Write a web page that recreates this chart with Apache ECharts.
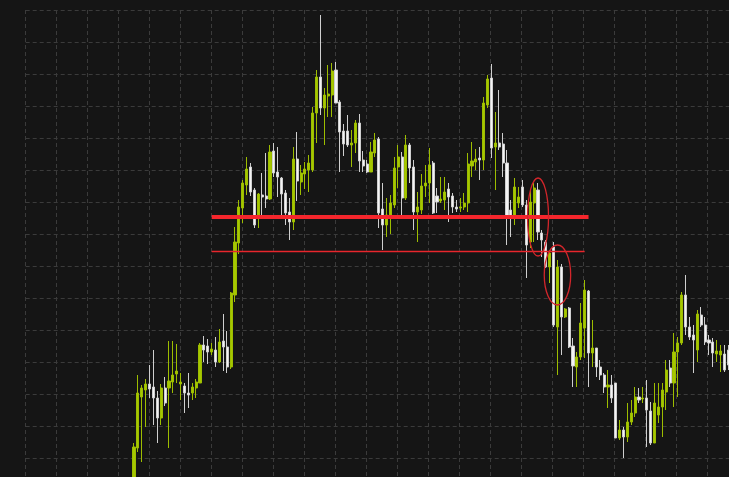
<!DOCTYPE html>
<html>
<head>
<meta charset="utf-8">
<script src="https://cdn.jsdelivr.net/npm/echarts@6/dist/echarts.min.js"></script>
<style>
html,body{margin:0;padding:0;background:#151515;}
#chart{width:729px;height:477px;}
</style>
</head>
<body>
<div id="chart"></div>
<script>
// OHLC values (price units), one entry per bar
const opens = [20,52,103,110,116,113,102,82,112,112,
118,126,116,114,107,107,112,117,155,154,
148,150,138,159,153,133,205,257,292,315,
333,310,285,305,304,301,349,328,322,307,
288,278,341,318,326,330,330,387,423,392,
404,405,430,398,369,369,355,357,377,340,
336,328,347,361,291,275,285,295,333,343,
302,355,333,288,290,314,317,337,304,299,
300,311,304,293,292,293,297,334,338,342,
340,395,422,353,357,356,337,290,283,297,
313,295,258,297,310,267,258,233,253,173,
233,183,192,154,133,143,172,209,147,152,
133,125,113,115,117,62,70,63,78,87,
103,101,102,89,57,85,93,108,132,117,
148,157,205,173,165,150,185,175,160,158,
146,145,146,150];
const closes = [53,107,112,116,111,102,82,112,97,119,
125,129,118,107,105,113,118,155,150,148,
151,138,158,153,133,207,258,293,317,331,
308,275,306,303,301,348,327,323,306,287,
278,341,319,327,331,337,387,423,392,405,
406,429,397,368,356,355,357,377,339,334,
328,348,360,287,275,285,297,332,343,302,
355,332,288,293,314,317,335,287,298,301,
308,303,293,291,293,297,336,339,341,340,
397,421,352,357,353,337,282,282,313,303,
295,255,298,312,268,260,233,247,175,233,
183,191,153,134,143,177,210,147,152,133,
125,113,115,102,62,70,63,78,87,103,
100,102,90,57,97,93,110,130,117,148,
157,205,173,163,160,186,175,158,157,147,
149,149,130,135];
const lows = [18,48,38,73,102,75,57,75,94,52,
107,117,100,87,92,100,102,117,138,136,
145,133,137,129,127,131,198,246,277,305,
304,272,272,284,292,300,323,303,285,275,
260,270,299,305,311,308,328,357,385,355,
383,383,397,328,344,353,333,347,328,328,
327,328,343,272,250,263,266,292,312,282,
300,317,270,258,286,303,297,286,287,297,
290,278,287,288,288,290,288,323,330,320,
330,392,342,310,350,323,255,263,275,292,
293,222,252,258,260,243,232,217,173,125,
145,182,152,113,113,140,142,113,133,123,
120,107,92,97,62,60,42,58,75,83,
97,97,53,55,57,77,63,90,113,93,
103,155,165,160,127,138,173,155,145,133,
138,128,128,130];
const highs = [57,125,115,121,135,150,109,116,123,159,
159,156,127,117,127,117,121,157,164,161,
157,163,171,186,169,208,273,300,320,343,
337,312,307,327,347,355,357,353,323,310,
302,353,368,335,338,345,393,430,485,412,
435,437,438,400,376,385,370,380,386,349,
340,358,367,363,317,302,305,343,355,348,
365,357,340,308,326,335,352,339,312,323,
323,317,307,300,302,307,347,358,351,353,
403,425,436,388,410,367,350,300,322,313,
320,300,310,317,317,270,260,250,258,240,
236,192,193,162,148,197,220,210,180,152,
140,127,130,125,117,80,73,97,100,113,
112,113,120,98,117,117,117,140,140,167,
163,208,225,183,175,190,193,183,165,162,
160,155,155,155];

// bar labels (hidden on the chart)
const categories = opens.map((_, i) => 'Bar ' + (i + 1));

// annotation levels
const resistanceLevel = 283.5;
const supportLevel = 248.5;
const resistanceFrom = 19.6, resistanceTo = 117.1;
const supportFrom = 20, supportTo = 116;
// highlighted zones: [centre bar, centre price, half width in bars, half height in price]
const zones = [[103.7, 283, 2.7, 39], [109.4, 225, 3.4, 30]];

const ohlc = opens.map((o, i) => [o, closes[i], lows[i], highs[i]]);

const chart = echarts.init(document.getElementById('chart'), null, {renderer: 'canvas'});
const gridLine = {show: true, lineStyle: {color: '#3b3b3b', width: 1, type: [4, 3]}};
const thickRed = {color: '#f5262c', width: 4, type: 'solid', opacity: 1};
chart.setOption({
  animation: false,
  backgroundColor: '#151515',
  grid: [
    {left: 134, right: 0.6, top: 0, bottom: 0},
    {left: 25.7, right: 0, top: 10, bottom: 0}
  ],
  xAxis: [
    {type: 'category', gridIndex: 0, data: categories, boundaryGap: false, show: false},
    {type: 'value', gridIndex: 1, min: 0, max: 703.3, interval: 31,
     axisLine: {show: false}, axisTick: {show: false}, axisLabel: {show: false}, splitLine: gridLine}
  ],
  yAxis: [
    {type: 'value', gridIndex: 0, min: 23, max: 500, show: false},
    {type: 'value', gridIndex: 1, min: 0, max: 467, interval: 32, inverse: true,
     axisLine: {show: false}, axisTick: {show: false}, axisLabel: {show: false}, splitLine: gridLine}
  ],
  series: [
    {
      type: 'candlestick',
      xAxisIndex: 0, yAxisIndex: 0,
      data: ohlc,
      barWidth: 2.6,
      itemStyle: {
        color: '#a6c800', borderColor: '#9dbd00',
        color0: '#f4f4f4', borderColor0: '#cfcfcf', borderWidth: 1
      },
      markLine: {
        silent: true,
        symbol: ['none', 'none'],
        label: {show: false},
        animation: false,
        lineStyle: thickRed,
        emphasis: {disabled: true},
        data: [
          [{coord: [resistanceFrom, resistanceLevel], lineStyle: thickRed},
           {coord: [resistanceTo, resistanceLevel], lineStyle: thickRed}]
        ]
      }
    },
    {
      type: 'line',
      xAxisIndex: 0, yAxisIndex: 0,
      silent: true,
      z: 4,
      data: [[supportFrom, supportLevel], [supportTo, supportLevel]],
      showSymbol: false,
      symbol: 'none',
      color: '#e8262c',
      lineStyle: {color: '#e8262c', width: 1.4, type: 'solid'},
      emphasis: {disabled: true}
    },
    {
      type: 'custom',
      xAxisIndex: 0, yAxisIndex: 0,
      silent: true,
      clip: false,
      z: 5,
      data: zones,
      renderItem: function (params, api) {
        const c = api.coord([api.value(0), api.value(1)]);
        const band = api.size([1, 1])[0];
        const t = api.coord([api.value(0), api.value(1) + api.value(3)]);
        return {
          type: 'ellipse',
          shape: {cx: c[0], cy: c[1], rx: api.value(2) * band, ry: Math.abs(c[1] - t[1])},
          style: {fill: 'none', stroke: '#d3262b', lineWidth: 1.3}
        };
      }
    }
  ]
});
</script>
</body>
</html>
